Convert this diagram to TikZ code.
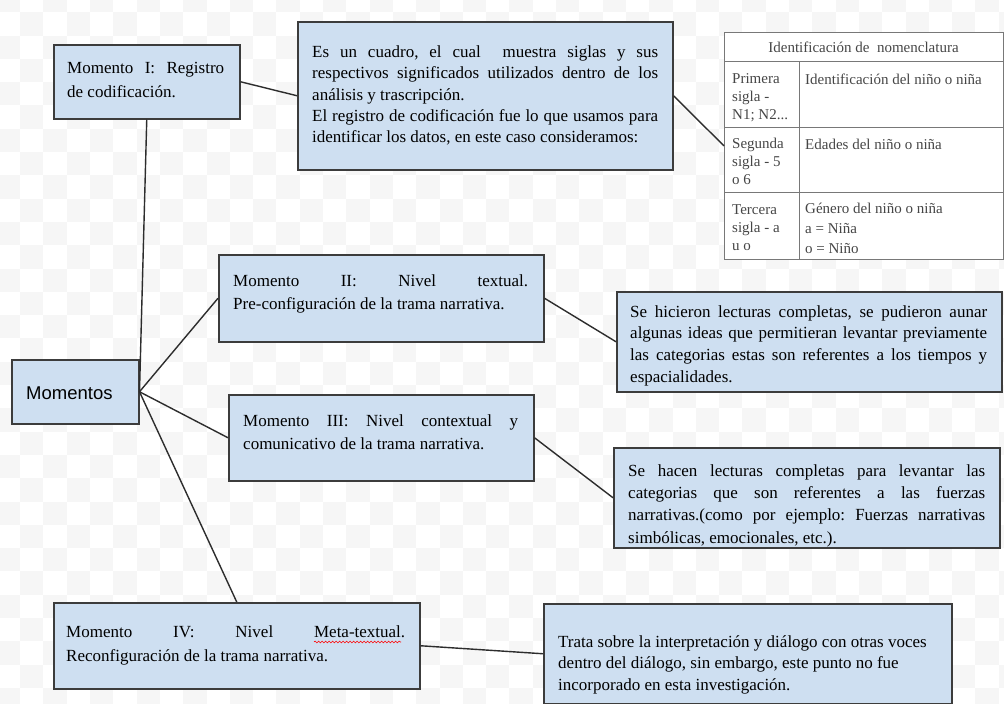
\documentclass[tikz,border=0pt]{standalone}
\usepackage{fontspec}
\setmainfont{Liberation Serif}
\newfontfamily\arialfont{Liberation Sans}
\usetikzlibrary{decorations.pathmorphing}
\definecolor{boxfill}{RGB}{206,223,241}
\definecolor{boxline}{RGB}{60,60,60}
\definecolor{linkc}{RGB}{45,45,45}
\definecolor{checker}{RGB}{246,246,246}
\definecolor{tabtext}{RGB}{70,70,70}
\definecolor{tabline}{RGB}{120,120,120}
\tolerance=9999
\hbadness=10000
\frenchspacing
\begin{document}
\begin{tikzpicture}[x=1pt,y=-1pt,
  box/.style={draw=boxline, line width=1.5pt, fill=boxfill, rectangle, inner sep=0pt, anchor=north west},
  txt/.style={inner sep=0pt, anchor=west, align=justify},
  link/.style={draw=linkc, line width=1.4pt},
  cell/.style={inner sep=0pt, anchor=west, align=left, text=tabtext, font=\fontsize{15}{18}\selectfont}]
\useasboundingbox (0,0) rectangle (1004,704);
\fill[white] (0,0) rectangle (1004,704);
\foreach \i in {0,...,43}{\foreach \j in {0,...,31}{%
  \pgfmathtruncatemacro\ckpar{mod(\i+\j,2)}%
  \ifnum\ckpar=0 \fill[checker] ({\i*23.3-3.2},{\j*23.3-11.1}) rectangle ++(23.3,23.3);\fi}}

% Momento I
\node[box, minimum width=186, minimum height=74] (m1) at (53,44) {};
\node[txt, text width=157, font=\fontsize{17}{23.5}\selectfont] (m1t) at (67,80) {Momento I: Registro\linebreak de codificación.};

% cuadro
\node[box, minimum width=375, minimum height=148] (cuadro) at (297,21) {};
\node[txt, text width=346, font=\fontsize{17}{21.3}\selectfont] (cuadrot) at (312,95.5) {Es un cuadro, el cual~ muestra siglas y sus\linebreak respectivos significados utilizados dentro de los\linebreak análisis y trascripción.\\El registro de codificación fue lo que usamos para\linebreak identificar los datos, en este caso consideramos:};

% tabla
\node[draw=tabline, line width=0.8pt, fill=white, minimum width=279, minimum height=227, inner sep=0pt, anchor=north west] (tab) at (724,32) {};
\draw[tabline, line width=0.8pt] (724,61) -- (1003,61) (724,127) -- (1003,127) (724,192) -- (1003,192) (799,61) -- (799,259);
\node[inner sep=0pt, text=tabtext, font=\fontsize{15}{18}\selectfont] (th) at (863.5,47) {Identificación de~ nomenclatura};
\node[cell] (c11) at (732,97.5) {Primera\\sigla -\\N1; N2...};
\node[cell] (c12) at (805,79) {Identificación del niño o niña};
\node[cell] (c21) at (732,161) {Segunda\\sigla - 5\\o 6};
\node[cell] (c22) at (805,144) {Edades del niño o niña};
\node[cell] (c31) at (732,227.5) {Tercera\\sigla - a\\u o};
\node[cell, font=\fontsize{15}{20}\selectfont] (c32) at (805,228) {Género del niño o niña\\a = Niña\\o = Niño};

% Momentos
\node[box, minimum width=127, minimum height=64] (mom) at (11,359) {};
\node[inner sep=0pt, anchor=west, font=\arialfont\fontsize{18.5}{22}\selectfont] (momt) at (26,393) {Momentos};

% Momento II
\node[box, minimum width=325, minimum height=87] (m2) at (218,254) {};
\node[txt, text width=295, font=\fontsize{17}{23}\selectfont] (m2t) at (233,293.5) {Momento II: Nivel textual.\linebreak Pre-configuración de la trama narrativa.};
\node[box, minimum width=385, minimum height=100] (r2) at (616,291) {};
\node[txt, text width=357, font=\fontsize{17}{21.7}\selectfont] (r2t) at (630,345.5) {Se hicieron lecturas completas, se pudieron aunar\linebreak algunas ideas que permitieran levantar previamente\linebreak las categorias estas son referentes a los tiempos y\linebreak espacialidades.};

% Momento III
\node[box, minimum width=305, minimum height=86] (m3) at (228,394) {};
\node[txt, text width=275, font=\fontsize{17}{23}\selectfont] (m3t) at (243,432.5) {Momento III: Nivel contextual y\linebreak comunicativo de la trama narrativa.};
\node[box, minimum width=386, minimum height=100] (r3) at (613,447) {};
\node[txt, text width=357, font=\fontsize{17}{22.3}\selectfont] (r3t) at (628,505.5) {Se hacen lecturas completas para levantar las\linebreak categorias que son referentes a las fuerzas\linebreak narrativas.(como por ejemplo: Fuerzas narrativas\linebreak simbólicas, emocionales, etc.).};

% Momento IV
\node[box, minimum width=366, minimum height=86] (m4) at (53,602) {};
\node[txt, text width=339, font=\fontsize{17}{24}\selectfont] (m4t) at (66,645) {Momento IV: Nivel Meta-textual.\linebreak Reconfiguración de la trama narrativa.};
\draw[red, line width=0.6pt, decorate, decoration={snake, amplitude=0.9pt, segment length=3.5pt}] (314,642) -- (401,642);
\node[box, minimum width=408, minimum height=100] (r4) at (543,603) {};
\node[inner sep=0pt, anchor=west, align=left, font=\fontsize{17}{21.5}\selectfont] (r4t) at (558,664.5) {Trata sobre la interpretación y diálogo con otras voces\\dentro del diálogo, sin embargo, este punto no fue\\incorporado en esta investigación.};

% connectors
\draw[link] (mom.east) -- (m1.south);
\draw[link] (mom.east) -- (m2.west);
\draw[link] (mom.east) -- (m3.west);
\draw[link] (mom.east) -- (m4.north);
\draw[link] (m1.east) -- (cuadro.west);
\draw[link] (cuadro.east) -- (tab.west);
\draw[link] (m2.east) -- (r2.west);
\draw[link] (m3.east) -- (r3.west);
\draw[link] (m4.east) -- (r4.west);
\end{tikzpicture}
\end{document}
